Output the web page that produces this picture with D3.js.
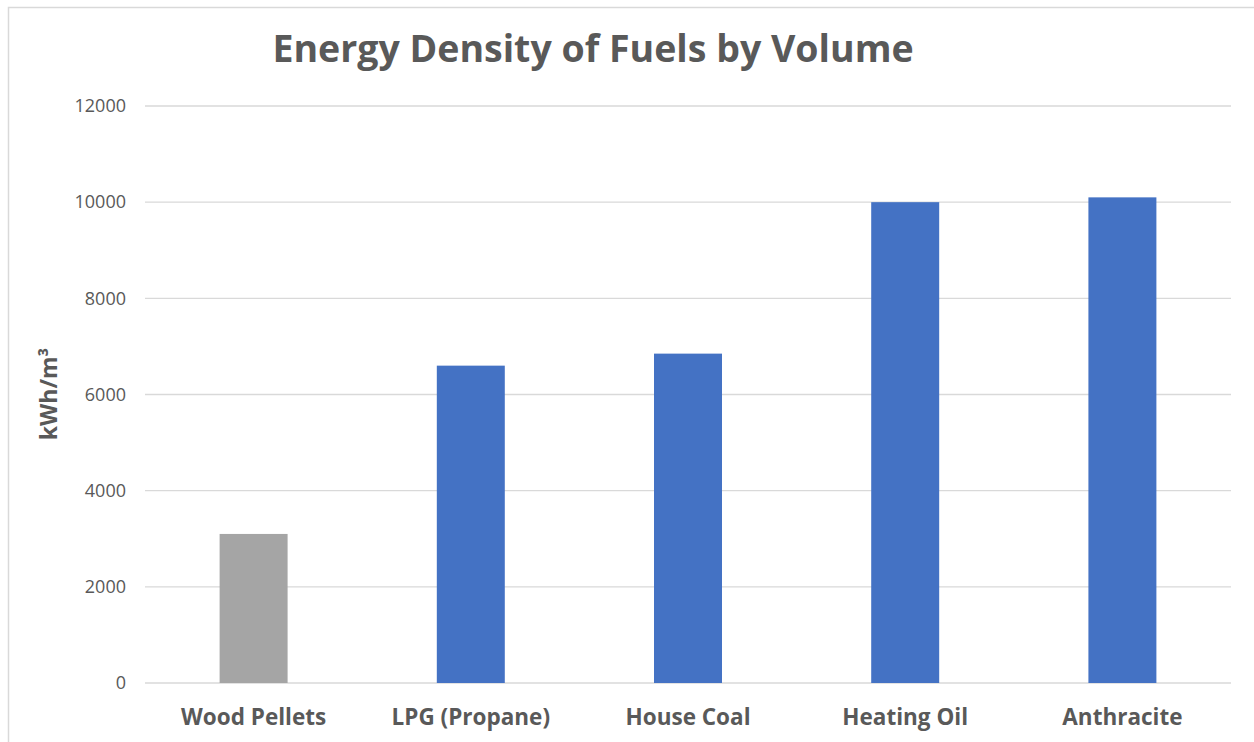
<!DOCTYPE html>
<html>
<head>
<meta charset="utf-8">
<script src="https://cdn.jsdelivr.net/npm/d3@7"></script>
<style>
  html, body { margin: 0; padding: 0; background: #fff; }
  svg { display: block; font-family: "Open Sans", "Liberation Sans", sans-serif; }
</style>
</head>
<body>
<svg id="chart" width="1254" height="742"></svg>
<script>
// Energy content per cubic metre of common heating fuels
const categories = ["Wood Pellets", "LPG (Propane)", "House Coal", "Heating Oil", "Anthracite"];
const values = [3100, 6600, 6850, 10000, 10100];
const barColors = ["#A5A5A5", "#4472C4", "#4472C4", "#4472C4", "#4472C4"];
const yTicks = [0, 2000, 4000, 6000, 8000, 10000, 12000];

const svg = d3.select("#chart");
const margin = { left: 145, right: 1231, top: 106, bottom: 683 };

// Outer chart frame
svg.append("rect")
  .attr("x", 8.5).attr("y", 7.5)
  .attr("width", 1260).attr("height", 760)
  .attr("fill", "none").attr("stroke", "#D9D9D9").attr("stroke-width", 1.5);

const x = d3.scaleBand()
  .domain(categories)
  .range([margin.left, margin.right])
  .paddingInner(0.687)
  .paddingOuter(0.3435);

const y = d3.scaleLinear()
  .domain([0, 12000])
  .range([margin.bottom, margin.top]);

// Horizontal gridlines
svg.append("g")
  .selectAll("line")
  .data(yTicks)
  .join("line")
  .attr("x1", margin.left).attr("x2", margin.right)
  .attr("y1", d => y(d)).attr("y2", d => y(d))
  .attr("stroke", "#D9D9D9").attr("stroke-width", 1.3);

// Y tick labels
const yAxis = d3.axisLeft(y).tickValues(yTicks).tickSize(0).tickPadding(0).tickFormat(d3.format("d"));
const gy = svg.append("g").attr("transform", `translate(${margin.left - 19},0)`).call(yAxis);
gy.select(".domain").remove();
gy.selectAll("text")
  .attr("fill", "#595959")
  .style("font-size", "18px")
  .style("font-family", "'Open Sans', sans-serif");

// Bars
svg.append("g")
  .selectAll("rect")
  .data(values)
  .join("rect")
  .attr("x", (d, i) => x(categories[i]))
  .attr("width", x.bandwidth())
  .attr("y", d => y(d))
  .attr("height", d => y(0) - y(d))
  .attr("fill", (d, i) => barColors[i]);

// Category labels
const xAxis = d3.axisBottom(x).tickSize(0).tickPadding(0);
const gx = svg.append("g").attr("transform", "translate(0,725)").call(xAxis);
gx.select(".domain").remove();
gx.selectAll("text")
  .attr("fill", "#595959")
  .attr("dy", "0")
  .style("font-size", "22.5px")
  .style("font-weight", "bold")
  .style("font-family", "'Open Sans', sans-serif");

// Axis title
svg.append("text")
  .attr("transform", "translate(57,394) rotate(-90)")
  .attr("text-anchor", "middle")
  .attr("fill", "#595959")
  .style("font-size", "23px")
  .style("font-weight", "bold")
  .text("kWh/m³");

// Chart title
svg.append("text")
  .attr("x", 593).attr("y", 62)
  .attr("text-anchor", "middle")
  .attr("fill", "#595959")
  .style("font-size", "37.5px")
  .style("font-weight", "bold")
  .text("Energy Density of Fuels by Volume");
</script>
</body>
</html>
